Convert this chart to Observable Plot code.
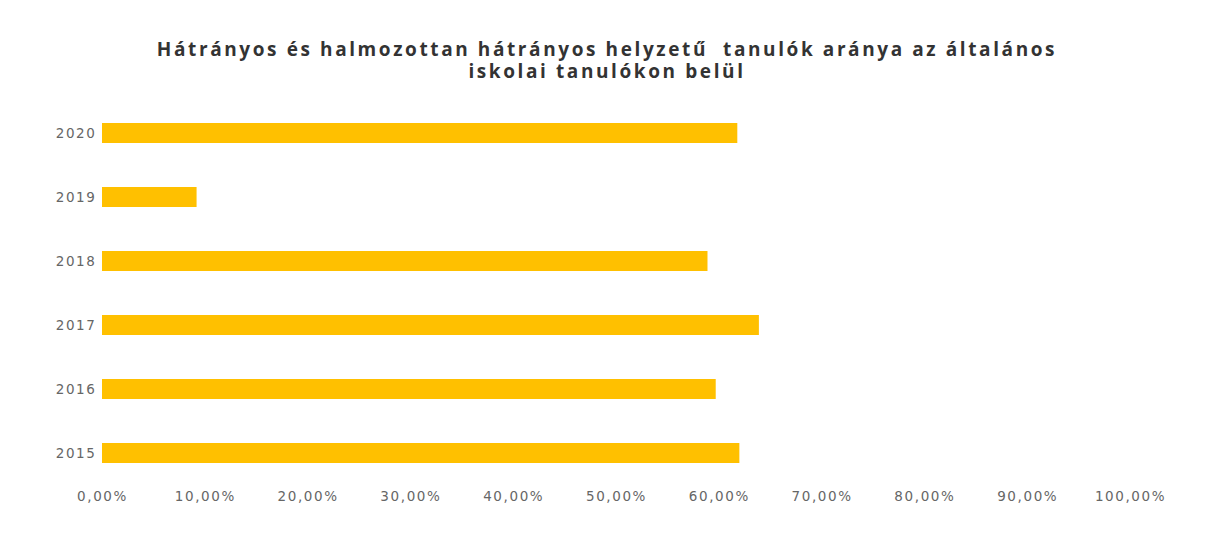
<!DOCTYPE html>
<html>
<head>
<meta charset="utf-8">
<script src="https://cdn.jsdelivr.net/npm/d3@7"></script>
<script src="https://cdn.jsdelivr.net/npm/@observablehq/plot@0.6"></script>
<style>
  html, body { margin: 0; padding: 0; background: #fff; width: 1214px; height: 539px; overflow: hidden; }
  #title {
    height: 100px; box-sizing: border-box; padding-top: 38px;
    text-align: center; font-family: "Open Sans", "DejaVu Sans", sans-serif;
    font-weight: bold; font-size: 19px; line-height: 22px; color: #333;
    letter-spacing: 2.6px; white-space: pre;
  }
  #chart svg { display: block; }
</style>
</head>
<body>
<div id="title">Hátrányos és halmozottan hátrányos helyzetű  tanulók aránya az általános
iskolai tanulókon belül</div>
<div id="chart"></div>
<script>
const years = ["2020", "2019", "2018", "2017", "2016", "2015"];
const shares = [0.618, 0.092, 0.589, 0.639, 0.597, 0.620];
const xTicks = [0, 0.1, 0.2, 0.3, 0.4, 0.5, 0.6, 0.7, 0.8, 0.9, 1.0];

const data = years.map((y, i) => ({year: y, share: shares[i]}));
const fmt = d => (d * 100).toFixed(2).replace(".", ",") + "%";

const chart = Plot.plot({
  width: 1214,
  height: 439,
  marginTop: 0,
  marginBottom: 54,
  marginLeft: 102,
  marginRight: 84,
  style: {fontFamily: "'DejaVu Sans', sans-serif", fontSize: "13.5px", color: "#666", background: "#fff"},
  x: {domain: [0, 1], ticks: xTicks, tickFormat: fmt, tickSize: 0, tickPadding: 6, label: null},
  y: {domain: years, paddingInner: 0.69, paddingOuter: 0.345, tickSize: 0, tickPadding: 6, label: null},
  marks: [
    Plot.barX(data, {x: "share", y: "year", fill: "#FFC000"})
  ]
});
chart.querySelectorAll("text").forEach(t => t.setAttribute("letter-spacing", "1.6"));
document.getElementById("chart").appendChild(chart);
</script>
</body>
</html>
